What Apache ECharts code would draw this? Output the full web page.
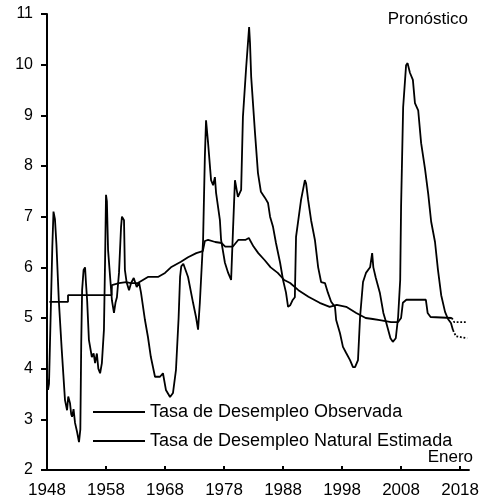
<!DOCTYPE html>
<html>
<head>
<meta charset="utf-8">
<script src="https://cdn.jsdelivr.net/npm/echarts@6/dist/echarts.min.js"></script>
<style>
  html, body { margin: 0; padding: 0; background: #fff; }
  #chart { width: 482px; height: 501px; }
</style>
</head>
<body>
<div id="chart"></div>
<script>
// tasa observada (lectura del grafico)
var obsYears = [1948.0, 1948.17, 1948.34, 1948.9, 1949.1, 1949.35, 1949.6, 1950.0, 1950.5, 1951.05, 1951.4, 1951.6, 1951.9, 1952.1, 1952.25, 1952.5, 1952.75, 1953.1, 1953.42, 1953.65, 1953.8, 1953.95, 1954.2, 1954.45, 1954.6, 1954.8, 1955.1, 1955.6, 1955.9, 1956.15, 1956.45, 1956.7, 1957.0, 1957.3, 1957.65, 1957.85, 1958.0, 1958.15, 1958.35, 1958.7, 1959.0, 1959.35, 1959.6, 1959.85, 1960.2, 1960.55, 1960.7, 1961.05, 1961.2, 1961.5, 1961.9, 1962.25, 1962.7, 1963.2, 1963.6, 1963.93, 1964.6, 1965.1, 1965.6, 1966.3, 1967.15, 1967.65, 1968.15, 1968.85, 1969.35, 1969.85, 1970.3, 1970.55, 1970.75, 1971.1, 1971.9, 1972.75, 1973.25, 1973.6, 1973.9, 1974.45, 1974.75, 1974.95, 1975.3, 1975.8, 1976.15, 1976.45, 1976.65, 1977.3, 1977.5, 1978.15, 1978.7, 1979.2, 1979.5, 1979.85, 1980.35, 1980.9, 1981.2, 1981.75, 1982.25, 1982.4, 1982.6, 1983.25, 1983.75, 1984.25, 1984.95, 1985.45, 1985.8, 1986.3, 1986.8, 1987.5, 1988.0, 1988.5, 1988.85, 1989.2, 1989.6, 1990.0, 1990.2, 1990.55, 1991.05, 1991.7, 1991.9, 1992.25, 1992.75, 1993.4, 1993.95, 1994.45, 1995.1, 1995.6, 1996.15, 1996.8, 1997.0, 1997.65, 1998.15, 1998.7, 1999.35, 1999.85, 2000.2, 2000.7, 2001.05, 2001.55, 2002.05, 2002.75, 2003.1, 2003.3, 2003.7, 2004.4, 2005.0, 2005.5, 2006.2, 2006.6, 2007.1, 2007.5, 2007.85, 2008.0, 2008.35, 2008.85, 2009.1, 2009.5, 2010.0, 2010.35, 2010.9, 2011.4, 2012.05, 2012.6, 2013.1, 2013.75, 2014.25, 2014.8, 2015.45, 2015.95, 2016.45, 2016.8];
var obsValues = [3.84, 3.58, 3.7, 6.4, 7.1, 6.95, 6.45, 5.35, 4.37, 3.38, 3.18, 3.45, 3.32, 3.1, 3.05, 3.2, 2.93, 2.75, 2.55, 2.8, 4.5, 5.55, 5.95, 6.0, 5.7, 5.35, 4.57, 4.23, 4.3, 4.11, 4.3, 4.0, 3.91, 4.11, 4.77, 6.2, 7.43, 7.3, 6.34, 5.8, 5.35, 5.1, 5.3, 5.41, 5.89, 6.8, 7.0, 6.93, 5.95, 5.7, 5.55, 5.69, 5.79, 5.61, 5.7, 5.5, 4.96, 4.63, 4.23, 3.84, 3.84, 3.91, 3.58, 3.44, 3.52, 3.97, 5.0, 5.81, 6.02, 6.07, 5.81, 5.3, 5.02, 4.77, 5.3, 6.54, 8.18, 8.9, 8.45, 7.72, 7.62, 7.78, 7.47, 6.93, 6.54, 6.09, 5.89, 5.75, 6.68, 7.72, 7.39, 7.53, 8.97, 9.95, 10.74, 10.43, 9.76, 8.65, 7.86, 7.49, 7.37, 7.27, 7.0, 6.8, 6.48, 6.09, 5.75, 5.5, 5.22, 5.25, 5.35, 5.41, 6.6, 6.9, 7.33, 7.72, 7.66, 7.33, 6.93, 6.54, 6.0, 5.71, 5.69, 5.5, 5.32, 5.22, 4.96, 4.7, 4.43, 4.31, 4.17, 4.03, 4.03, 4.17, 5.02, 5.71, 5.89, 6.0, 6.28, 6.0, 5.8, 5.5, 5.1, 4.9, 4.6, 4.53, 4.6, 5.02, 5.75, 7.19, 9.16, 9.99, 10.03, 9.84, 9.7, 9.24, 9.1, 8.45, 7.95, 7.45, 6.9, 6.5, 5.95, 5.45, 5.12, 4.98, 4.9, 4.76];

// tasa natural estimada
var natYears = [1948.4, 1951.56, 1951.56, 1958.95, 1959.0, 1960.2, 1961.4, 1962.2, 1963.4, 1965.1, 1966.8, 1968.0, 1969.0, 1970.7, 1971.9, 1973.3, 1974.4, 1974.75, 1975.3, 1976.5, 1977.6, 1978.2, 1979.5, 1980.4, 1981.6, 1982.2, 1983.0, 1983.8, 1984.9, 1985.9, 1987.1, 1988.2, 1989.2, 1990.6, 1992.3, 1994.2, 1995.9, 1997.1, 1998.7, 2000.4, 2002.0, 2003.2, 2004.4, 2006.3, 2007.5, 2008.0, 2008.3, 2008.9, 2012.2, 2012.5, 2013.0, 2016.6];
var natValues = [5.32, 5.32, 5.45, 5.45, 5.65, 5.69, 5.71, 5.69, 5.69, 5.81, 5.81, 5.89, 6.0, 6.11, 6.2, 6.28, 6.32, 6.52, 6.54, 6.5, 6.48, 6.41, 6.41, 6.54, 6.54, 6.58, 6.41, 6.28, 6.14, 6.0, 5.89, 5.75, 5.69, 5.55, 5.42, 5.3, 5.22, 5.26, 5.22, 5.1, 5.0, 4.98, 4.96, 4.92, 4.92, 5.0, 5.3, 5.36, 5.36, 5.1, 5.02, 5.0];

// pronostico (punteado)
var obsFcYears = [2016.8, 2017.3, 2019.2];
var obsFcValues = [4.76, 4.64, 4.6];
var natFcYears = [2016.6, 2017.0, 2019.2];
var natFcValues = [5.0, 4.92, 4.92];

var xTicks = [1948, 1958, 1968, 1978, 1988, 1998, 2008, 2018];

function pairs(xs, ys) {
  var out = [];
  for (var i = 0; i < xs.length; i++) {
    out.push([xs[i], ys[i]]);
  }
  return out;
}

var font = 'Liberation Sans';
var chart = echarts.init(document.getElementById('chart'));

var option = {
  animation: false,
  grid: { left: 47, right: 11, top: 14, bottom: 31 },
  legend: {
    data: ['Tasa de Desempleo Observada', 'Tasa de Desempleo Natural Estimada'],
    orient: 'vertical',
    left: 88,
    top: 398,
    icon: 'rect',
    itemWidth: 52,
    itemHeight: 2,
    itemGap: 11,
    textStyle: { fontFamily: font, fontSize: 18, color: '#000' }
  },
  xAxis: {
    type: 'value',
    min: 1948,
    max: 2019.5,
    interval: 10,
    splitLine: { show: false },
    axisLine: { lineStyle: { color: '#000', width: 2 } },
    axisTick: { inside: true, length: 4, lineStyle: { color: '#000', width: 2 } },
    axisLabel: {
      showMaxLabel: false,
      fontFamily: font, fontSize: 17, color: '#000', margin: 12,
      formatter: function (v) {
        return xTicks.indexOf(v) >= 0 ? String(v) : '';
      }
    }
  },
  yAxis: {
    type: 'value',
    min: 2,
    max: 11,
    interval: 1,
    splitLine: { show: false },
    axisLine: { show: true, lineStyle: { color: '#000', width: 2 } },
    axisTick: { show: true, length: 6, lineStyle: { color: '#000', width: 2 } },
    axisLabel: { fontFamily: font, fontSize: 16, color: '#000', margin: 14 }
  },
  graphic: [
    { type: 'text', right: 14, top: 11, style: { text: 'Pronóstico', font: '17px "Liberation Sans"', fill: '#000' } },
    { type: 'text', right: 9, top: 449, style: { text: 'Enero', font: '17px "Liberation Sans"', fill: '#000' } }
  ],
  series: [
    {
      name: 'Tasa de Desempleo Observada',
      type: 'line',
      data: pairs(obsYears, obsValues),
      symbol: 'none',
      color: '#000',
      lineStyle: { color: '#000', width: 1.8 }
    },
    {
      name: 'Tasa de Desempleo Natural Estimada',
      type: 'line',
      data: pairs(natYears, natValues),
      symbol: 'none',
      color: '#000',
      lineStyle: { color: '#000', width: 1.8 }
    },
    {
      name: 'obs-pronostico',
      type: 'line',
      data: pairs(obsFcYears, obsFcValues),
      symbol: 'none',
      lineStyle: { color: '#000', width: 1.8, type: 'dotted' }
    },
    {
      name: 'nat-pronostico',
      type: 'line',
      data: pairs(natFcYears, natFcValues),
      symbol: 'none',
      lineStyle: { color: '#000', width: 1.8, type: 'dotted' }
    }
  ]
};

chart.setOption(option);
</script>
</body>
</html>
